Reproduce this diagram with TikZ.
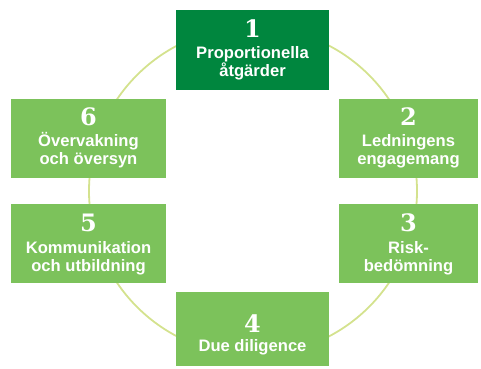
\documentclass[tikz,border=0pt]{standalone}
\usepackage{fontspec}
\setmainfont{Liberation Sans}
\newfontfamily\numfont{DejaVu Serif}
\definecolor{darkgr}{RGB}{0,134,62}
\definecolor{lightgr}{RGB}{124,194,91}
\definecolor{ringcol}{RGB}{212,226,142}
\begin{document}
\begin{tikzpicture}[x=1pt,y=-1pt,
  box/.style={rectangle,draw=none,fill=lightgr,inner sep=0pt},
  num/.style={anchor=base,text=white,font=\numfont\bfseries\fontsize{24}{24}\selectfont,inner sep=0pt},
  lbl/.style={anchor=base,text=white,font=\bfseries\fontsize{16.6}{19}\selectfont,inner sep=0pt}]
\useasboundingbox (0,0) rectangle (481,368);
\node[circle,draw=ringcol,line width=1.8pt,minimum size=328pt,inner sep=0pt] (ring) at (253,191) {};
% boxes
\node[box,fill=darkgr,minimum width=153pt,minimum height=80pt] (b1) at (252.5,50) {};
\node[box,minimum width=139pt,minimum height=79pt] (b2) at (408.5,138.5) {};
\node[box,minimum width=139pt,minimum height=79pt] (b3) at (408.5,243.5) {};
\node[box,minimum width=153pt,minimum height=74pt] (b4) at (252.5,329) {};
\node[box,minimum width=155pt,minimum height=79pt] (b5) at (88.5,243.5) {};
\node[box,minimum width=155pt,minimum height=79pt] (b6) at (88.5,138.5) {};
% texts
\node[num] (n1) at (252.5,37) {1};
\node[lbl] (t1a) at (252.5,58.5) {Proportionella};
\node[lbl] (t1b) at (252.5,76.5) {åtgärder};
\node[num] (n2) at (408.5,125) {2};
\node[lbl] (t2a) at (408.5,146.5) {Ledningens};
\node[lbl] (t2b) at (408.5,164.5) {engagemang};
\node[num] (n3) at (408.5,231.5) {3};
\node[lbl] (t3a) at (408.5,253) {Risk-};
\node[lbl] (t3b) at (408.5,271.5) {bedömning};
\node[num] (n4) at (252.5,332) {4};
\node[lbl] (t4a) at (252.5,351) {Due diligence};
\node[num] (n5) at (88.5,231.5) {5};
\node[lbl] (t5a) at (88.5,253) {Kommunikation};
\node[lbl] (t5b) at (88.5,271.5) {och utbildning};
\node[num] (n6) at (88.5,125) {6};
\node[lbl] (t6a) at (88.5,146.5) {Övervakning};
\node[lbl] (t6b) at (88.5,164.5) {och översyn};
\end{tikzpicture}
\end{document}
